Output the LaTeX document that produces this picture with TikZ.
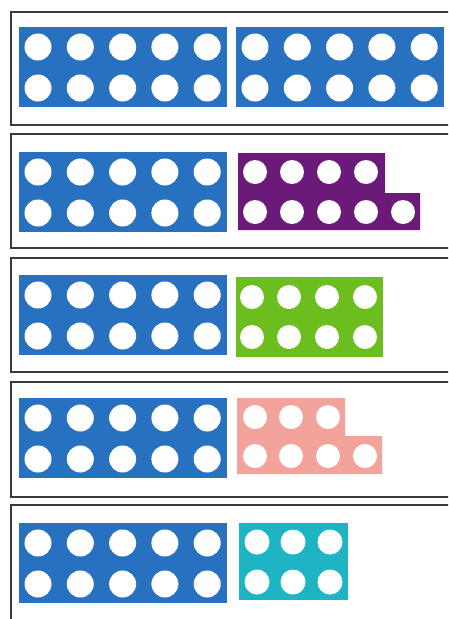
\documentclass[tikz,border=0pt]{standalone}
\definecolor{nblue}{HTML}{2870C0}
\definecolor{npurple}{HTML}{6B1A7A}
\definecolor{ngreen}{HTML}{6CBE1E}
\definecolor{npink}{HTML}{F2A39C}
\definecolor{nteal}{HTML}{1DB5C4}
\definecolor{nframe}{HTML}{3A3A3A}
\begin{document}
\begin{tikzpicture}[x=1pt,y=-1pt,
  rowframe/.style={draw=nframe,line width=1.6pt},
  hole/.style={fill=white},
  bigrack/.pic={
    \fill[nblue] (0,0) rectangle (208,80);
    \foreach \i in {0,...,4}{
      \fill[white] (19+42.3*\i,20) circle (13.5);
      \fill[white] (19+42.3*\i,61) circle (13.5);
    }
  }]
\useasboundingbox[fill=white] (0,0) rectangle (448,619);
\begin{scope}
\clip (0,0) rectangle (448,619);
% frames
\draw[rowframe] (11,12) rectangle (452,125);
\draw[rowframe] (11,134) rectangle (452,248);
\draw[rowframe] (11,258) rectangle (452,372);
\draw[rowframe] (11,382) rectangle (452,497);
\draw[rowframe] (11,505) rectangle (452,625);
\end{scope}
% blue tens
\pic at (19,27) {bigrack};
\pic at (236,27) {bigrack};
\pic at (19,152) {bigrack};
\pic at (19,275) {bigrack};
\pic at (19,398) {bigrack};
\pic at (19,523) {bigrack};
% purple nine
\fill[npurple] (238,153) -- (385,153) -- (385,193) -- (420,193) -- (420,230) -- (238,230) -- cycle;
\foreach \x in {255,292,329,366} \fill[hole] (\x,172) circle (12);
\foreach \x in {255,292,329,366,403} \fill[hole] (\x,212) circle (12);
% green eight
\fill[ngreen] (236,277) rectangle (383,357);
\foreach \x in {252,289,327,365}{
  \fill[hole] (\x,297) circle (12);
  \fill[hole] (\x,337) circle (12);
}
% pink seven
\fill[npink] (237,398) -- (345,398) -- (345,436) -- (382,436) -- (382,474) -- (237,474) -- cycle;
\foreach \x in {255,291,328} \fill[hole] (\x,417) circle (12);
\foreach \x in {255,291,328,365} \fill[hole] (\x,456) circle (12);
% teal six
\fill[nteal] (239,523) rectangle (348,600);
\foreach \x in {257,293,330}{
  \fill[hole] (\x,542) circle (12.5);
  \fill[hole] (\x,582) circle (12.5);
}
\end{tikzpicture}
\end{document}
